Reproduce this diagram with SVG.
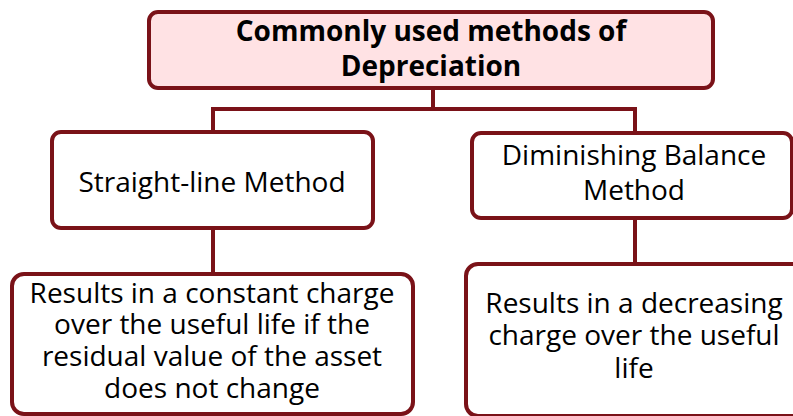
<svg xmlns="http://www.w3.org/2000/svg" width="793" height="416" viewBox="0 0 793 416">
<style>
.box{fill:#ffffff;stroke:#7a1218;stroke-width:4}
.top{fill:#ffe2e4}
.c{fill:none;stroke:#7a1218;stroke-width:4}
text{font-family:"Open Sans","Noto Sans","DejaVu Sans",sans-serif;fill:#000;text-anchor:middle}
.b{font-weight:bold;font-size:28px}
.n{font-size:28px}
</style>
<rect width="793" height="416" fill="#ffffff"/>
<g id="connectors">
<path class="c" d="M433 88V109M213 109H635M213 107V132M635 107V132M213 228V273M635 218V263"/>
</g>
<g id="root">
<rect class="box top" x="149" y="12" width="564" height="76" rx="9"/>
<text class="b"><tspan x="431" y="41">Commonly used methods of</tspan><tspan x="431" y="76">Depreciation</tspan></text>
</g>
<g id="straight">
<rect class="box" x="52" y="132" width="321" height="96" rx="9"/>
<text class="n" x="212" y="192">Straight-line Method</text>
</g>
<g id="diminishing">
<rect class="box" x="472" y="133" width="320" height="85" rx="9"/>
<text class="n"><tspan x="634" y="165">Diminishing Balance</tspan><tspan x="634" y="200">Method</tspan></text>
</g>
<g id="straight-desc">
<rect class="box" x="12" y="274" width="401" height="140" rx="12"/>
<text class="n"><tspan x="212" y="303">Results in a constant charge</tspan><tspan x="212" y="334">over the useful life if the</tspan><tspan x="212" y="366">residual value of the asset</tspan><tspan x="212" y="398">does not change</tspan></text>
</g>
<g id="diminishing-desc">
<rect class="box" x="466" y="264" width="340" height="152" rx="12"/>
<text class="n"><tspan x="634" y="313">Results in a decreasing</tspan><tspan x="634" y="345">charge over the useful</tspan><tspan x="634" y="378">life</tspan></text>
</g>
</svg>
